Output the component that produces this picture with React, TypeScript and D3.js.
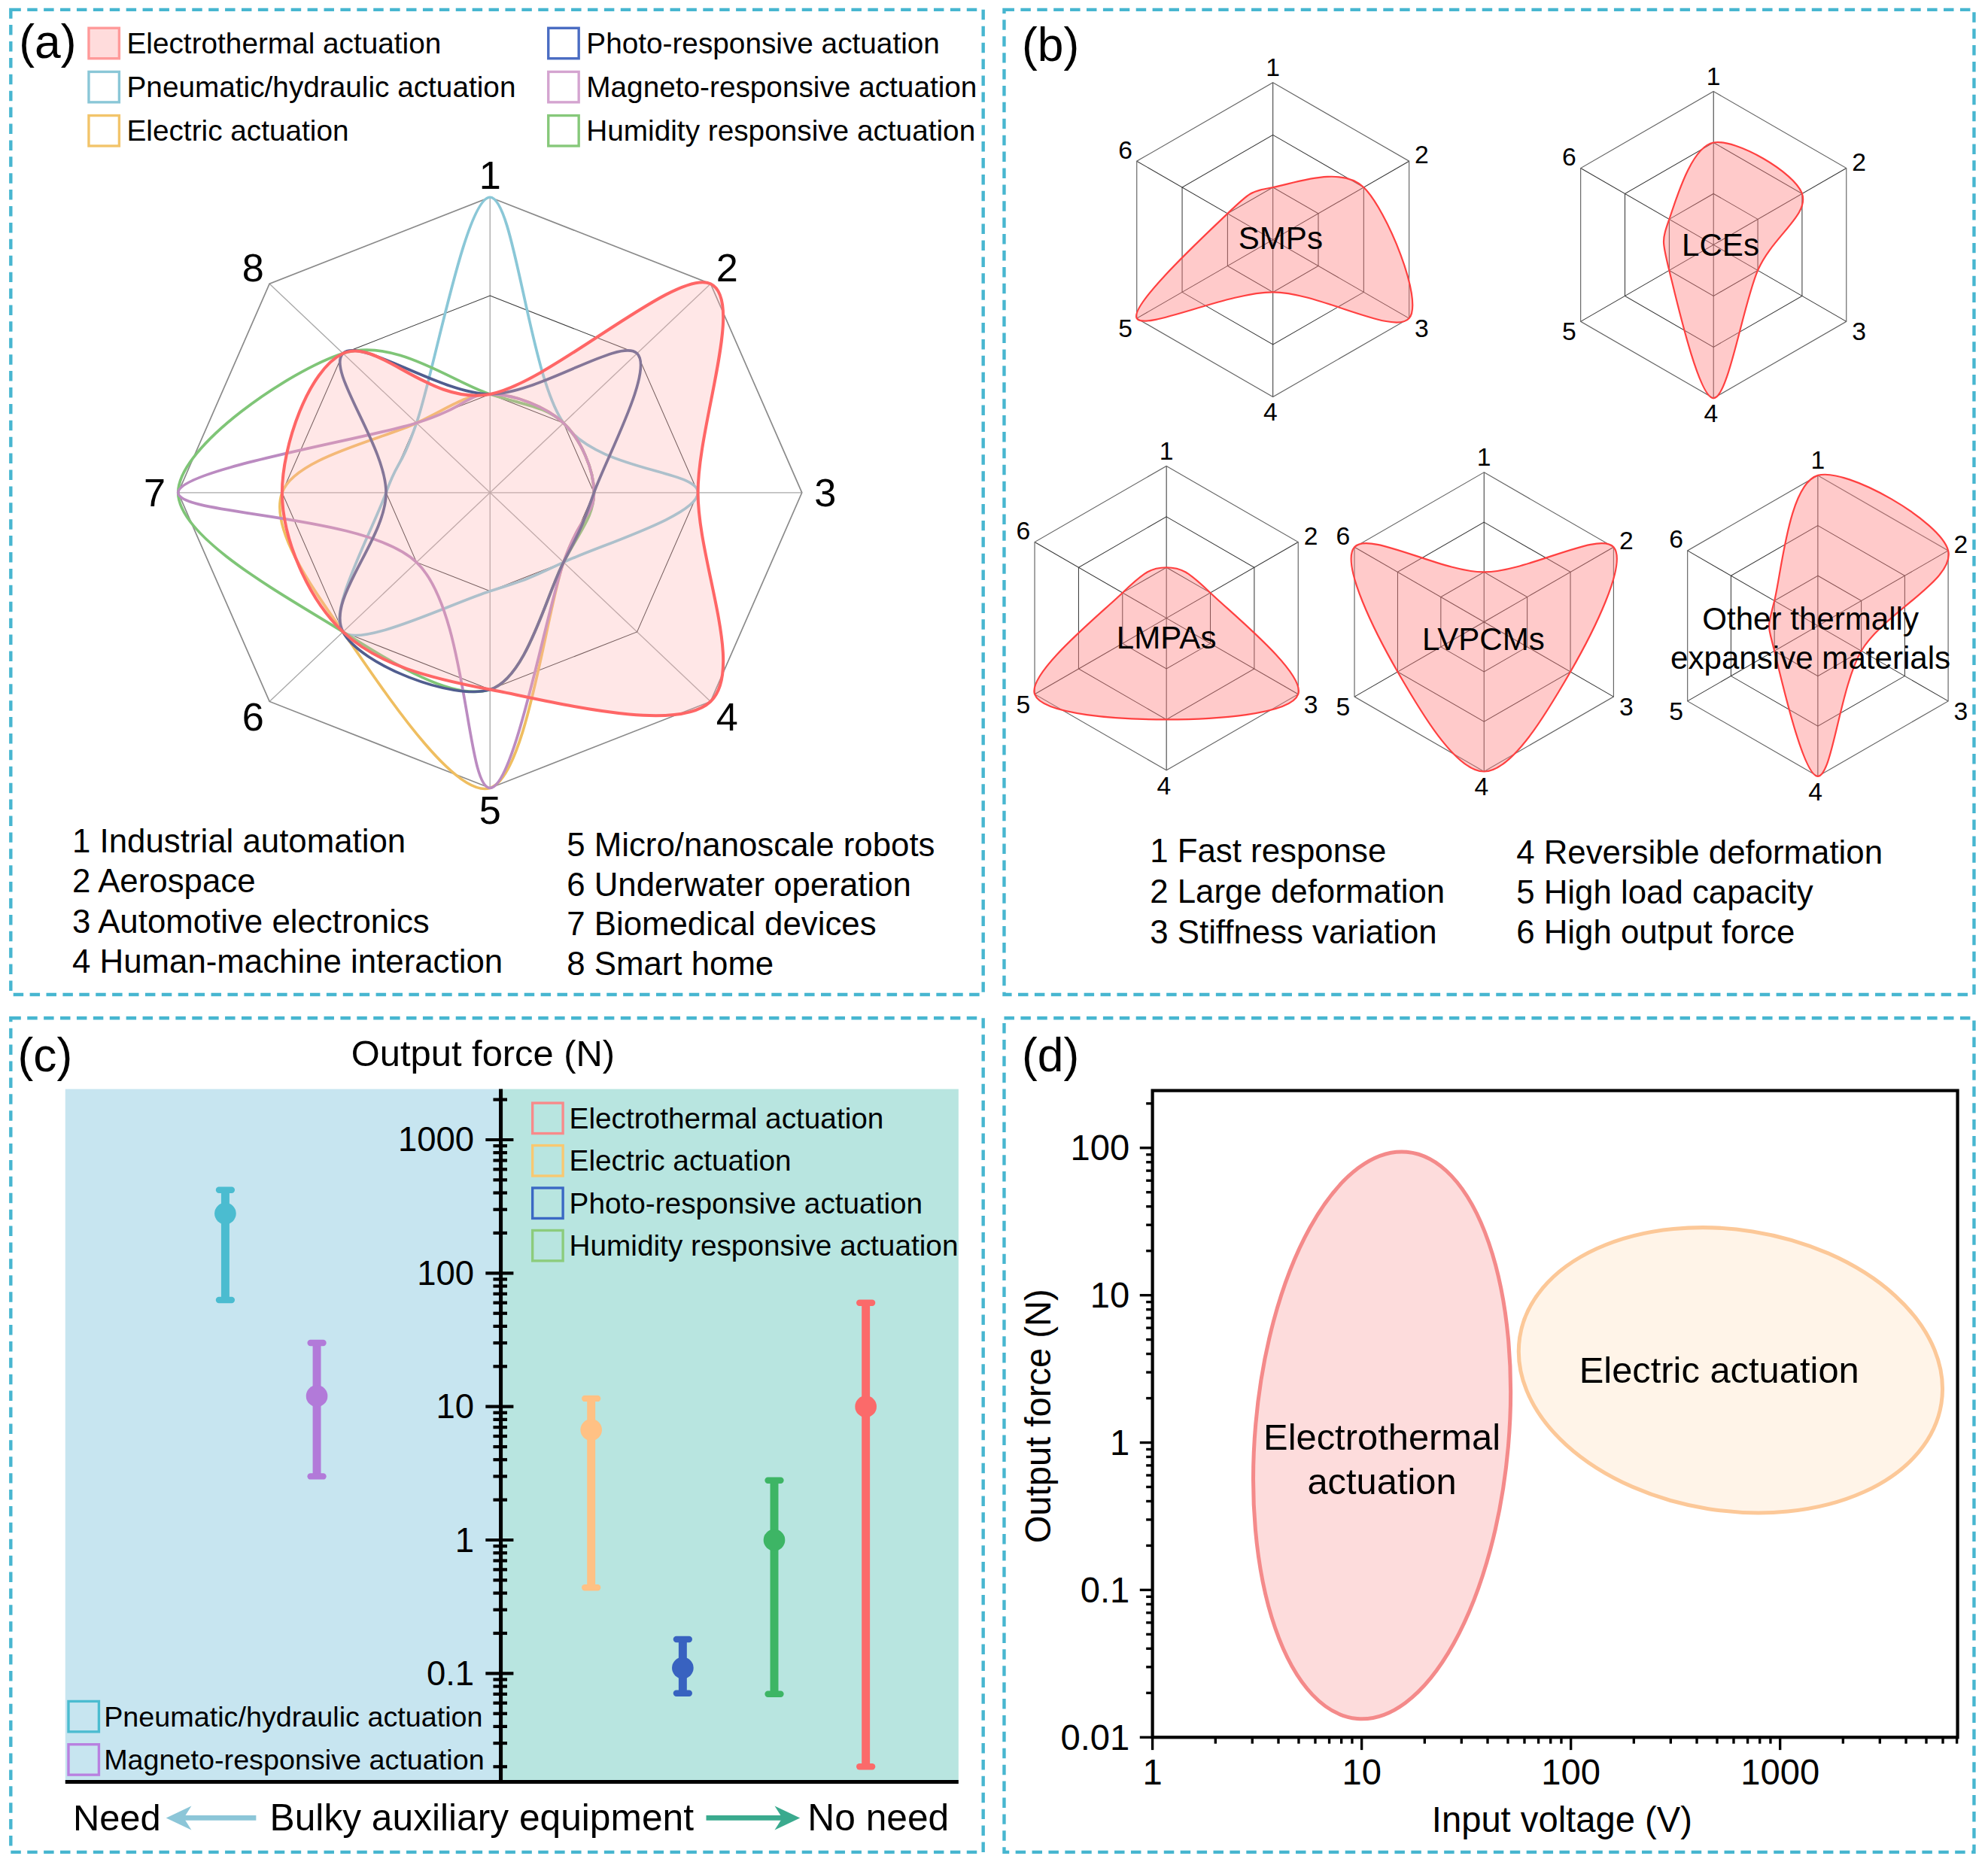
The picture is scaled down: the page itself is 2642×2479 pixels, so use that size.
import React from "react";
import * as d3 from "d3";

const FONT = "'Liberation Sans', Arial, Helvetica, sans-serif";
const W = 1568;
const H = 1471;

// ---------- (a) application scenarios (score 0-3) ----------
const appAxes = ["1", "2", "3", "4", "5", "6", "7", "8"];
const appNamesLeft = ["1 Industrial automation", "2 Aerospace", "3 Automotive electronics", "4 Human-machine interaction"];
const appNamesRight = ["5 Micro/nanoscale robots", "6 Underwater operation", "7 Biomedical devices", "8 Smart home"];
const actuationTypes = [
  "Electrothermal actuation",
  "Pneumatic/hydraulic actuation",
  "Electric actuation",
  "Photo-responsive actuation",
  "Magneto-responsive actuation",
  "Humidity responsive actuation",
];
const electrothermalApp = [1, 3, 2, 3, 2, 2, 2, 2];
const pneumaticApp = [3, 1, 2, 1, 1, 2, 1, 1];
const electricApp = [1, 1, 1, 1, 3, 2, 2, 1];
const photoApp = [1, 2, 1, 1, 2, 2, 1, 2];
const magnetoApp = [1, 1, 1, 1, 3, 1, 3, 1];
const humidityApp = [1, 1, 1, 1, 2, 2, 3, 2];

// ---------- (b) thermally responsive materials (score 0-3) ----------
const propAxes = ["1", "2", "3", "4", "5", "6"];
const propNamesLeft = ["1 Fast response", "2 Large deformation", "3 Stiffness variation"];
const propNamesRight = ["4 Reversible deformation", "5 High load capacity", "6 High output force"];
const materials = ["SMPs", "LCEs", "LMPAs", "LVPCMs", "Other thermally\nexpansive materials"];
const smpScores = [1, 2, 3, 1, 3, 1];
const lceScores = [2, 2, 1, 3, 1, 1];
const lmpaScores = [1, 1, 3, 2, 3, 1];
const lvpcmScores = [1, 3, 2, 3, 2, 3];
const otherScores = [3, 3, 1, 3, 1, 1];

// ---------- (c) output force ranges (N) ----------
const forceTypes = [
  "Pneumatic/hydraulic actuation",
  "Magneto-responsive actuation",
  "Electric actuation",
  "Photo-responsive actuation",
  "Humidity responsive actuation",
  "Electrothermal actuation",
];
const forceTypical = [280, 12, 6.7, 0.11, 1, 10];
const forceMin = [63, 3, 0.44, 0.071, 0.07, 0.02];
const forceMax = [420, 30, 11.5, 0.18, 2.8, 60];
const needsAuxiliary = [true, true, false, false, false, false];
const forceTicksC = [0.1, 1, 10, 100, 1000];

// ---------- (d) voltage vs force regions ----------
const voltageTicks = [1, 10, 100, 1000];
const forceTicksD = [0.01, 0.1, 1, 10, 100];
const regionNames = ["Electrothermal actuation", "Electric actuation"];
const regionVoltage = [12.5, 580]; // centre, V
const regionForce = [1.12, 3.1]; // centre, N
const regionVoltageHalf = [0.606, 1.02]; // half axis, decades
const regionForceHalf = [1.93, 0.953]; // half axis, decades
const regionTilt = [5, 9]; // degrees

const lineColor: Record<string, string> = {
  "Electrothermal actuation": "#ff6666",
  "Pneumatic/hydraulic actuation": "#8ac7d7",
  "Electric actuation": "#efbe60",
  "Photo-responsive actuation": "#505d8f",
  "Magneto-responsive actuation": "#bb8bc1",
  "Humidity responsive actuation": "#7fc577",
};
const keyColor: Record<string, string> = {
  "Electrothermal actuation": "#ff9a9a",
  "Pneumatic/hydraulic actuation": "#8ac7d7",
  "Electric actuation": "#f2c46a",
  "Photo-responsive actuation": "#4a6cc2",
  "Magneto-responsive actuation": "#d4a4d0",
  "Humidity responsive actuation": "#86c87a",
};
const barColor: Record<string, string> = {
  "Pneumatic/hydraulic actuation": "#4bbcd0",
  "Magneto-responsive actuation": "#b27ad9",
  "Electric actuation": "#ffc184",
  "Photo-responsive actuation": "#3862c0",
  "Humidity responsive actuation": "#3db565",
  "Electrothermal actuation": "#fb6a6a",
};
const barKeyColor: Record<string, string> = {
  "Pneumatic/hydraulic actuation": "#4bbcd0",
  "Magneto-responsive actuation": "#b880e0",
  "Electric actuation": "#f8c870",
  "Photo-responsive actuation": "#3a68c4",
  "Humidity responsive actuation": "#8ccc7c",
  "Electrothermal actuation": "#f88a8a",
};

const Border = ({ x, y, w, h }: { x: number; y: number; w: number; h: number }) => (
  <rect x={x} y={y} width={w} height={h} fill="none" stroke="#47b6d0" strokeWidth={2.6} strokeDasharray="8 5" />
);

const PanelLabel = ({ x, y, t }: { x: number; y: number; t: string }) => (
  <text x={x} y={y} fontSize={37} dominantBaseline="central">{t}</text>
);

function PanelA() {
  const cx = 386.5, cy = 388.5, rx = 246, ry = 233;
  const r = d3.scaleLinear().domain([0, 3]).range([0, 1]);
  const ang = d3.scaleLinear().domain([0, appAxes.length]).range([0, 2 * Math.PI]);
  const pt = (i: number, v: number): [number, number] => [
    cx + rx * r(v) * Math.sin(ang(i)),
    cy - ry * r(v) * Math.cos(ang(i)),
  ];
  const poly = d3.line();
  const spline = d3.line().curve(d3.curveCardinalClosed.tension(0));
  const ring = (v: number) => poly(appAxes.map((_, i) => pt(i, v))) + "Z";
  const scores: Record<string, number[]> = {
    "Electrothermal actuation": electrothermalApp,
    "Pneumatic/hydraulic actuation": pneumaticApp,
    "Electric actuation": electricApp,
    "Photo-responsive actuation": photoApp,
    "Magneto-responsive actuation": magnetoApp,
    "Humidity responsive actuation": humidityApp,
  };
  const drawOrder = [
    "Pneumatic/hydraulic actuation",
    "Electric actuation",
    "Humidity responsive actuation",
    "Magneto-responsive actuation",
    "Photo-responsive actuation",
  ];
  const et = spline(electrothermalApp.map((v, i) => pt(i, v))) as string;
  const legendRows = [34, 68.5, 103];
  return (
    <g>
      <Border x={8.5} y={7.5} w={767} h={777} />
      <PanelLabel x={15} y={33} t="(a)" />
      {actuationTypes.map((name, k) => {
        const col = k < 3 ? 0 : 1;
        const x = col === 0 ? 70 : 432.5;
        const y = legendRows[k % 3];
        const et0 = name === "Electrothermal actuation";
        return (
          <g key={name}>
            <rect x={x} y={y - 12} width={24} height={24} fill={et0 ? "#ffdcdc" : "#fff"} stroke={keyColor[name]} strokeWidth={2} />
            <text x={x + 30} y={y} fontSize={23} dominantBaseline="central">{name}</text>
          </g>
        );
      })}
      {appAxes.map((_, i) => (
        <line key={i} x1={cx} y1={cy} x2={pt(i, 3)[0]} y2={pt(i, 3)[1]} stroke="#a8a8a8" strokeWidth={0.8} />
      ))}
      <path d={ring(1)} fill="none" stroke="#3a3a3a" strokeWidth={0.6} />
      <path d={ring(2)} fill="none" stroke="#3a3a3a" strokeWidth={0.6} />
      <path d={ring(3)} fill="none" stroke="#8a8a8a" strokeWidth={1} />
      {drawOrder.map((name) => (
        <path key={name} d={spline(scores[name].map((v, i) => pt(i, v))) as string} fill="none" stroke={lineColor[name]} strokeWidth={2.2} />
      ))}
      <path d={et} fill="#ffb0b0" fillOpacity={0.3} stroke="none" />
      <path d={et} fill="none" stroke={lineColor["Electrothermal actuation"]} strokeWidth={2.4} />
      {appAxes.map((a, i) => {
        const [x, y] = pt(i, 3 * 1.075);
        return (
          <text key={a} x={x} y={y} fontSize={31} textAnchor="middle" dominantBaseline="central">{a}</text>
        );
      })}
      {appNamesLeft.map((t, i) => (
        <text key={t} x={57} y={663 + i * 31.7} fontSize={26} dominantBaseline="central">{t}</text>
      ))}
      {appNamesRight.map((t, i) => (
        <text key={t} x={447} y={666 + i * 31.3} fontSize={26} dominantBaseline="central">{t}</text>
      ))}
    </g>
  );
}

function Hexagon({ cx, cy, rad, values, label, lx, ly }: { cx: number; cy: number; rad: number; values: number[]; label: string; lx: number; ly: number }) {
  const r = d3.scaleLinear().domain([0, 3]).range([0, rad]);
  const ang = d3.scaleLinear().domain([0, propAxes.length]).range([0, 2 * Math.PI]);
  const pt = (i: number, v: number): [number, number] => [cx + r(v) * Math.sin(ang(i)), cy - r(v) * Math.cos(ang(i))];
  const poly = d3.line();
  const ring = (v: number) => poly(propAxes.map((_, i) => pt(i, v))) + "Z";
  const spline = d3.line().curve(d3.curveCardinalClosed.tension(0));
  const d = spline(values.map((v, i) => pt(i, v))) as string;
  const offs: [number, number][] = [[0, -12], [10, -5], [10, 8], [-2, 12], [-9, 8], [-9, -9]];
  const lines = label.split("\n");
  return (
    <g>
      {propAxes.map((_, i) => (
        <line key={i} x1={cx} y1={cy} x2={pt(i, 3)[0]} y2={pt(i, 3)[1]} stroke="#333" strokeWidth={0.6} />
      ))}
      <path d={ring(1)} fill="none" stroke="#333" strokeWidth={0.6} />
      <path d={ring(2)} fill="none" stroke="#333" strokeWidth={0.6} />
      <path d={ring(3)} fill="none" stroke="#666" strokeWidth={0.7} />
      <path d={d} fill="#ff8080" fillOpacity={0.42} stroke="#ff4040" strokeWidth={1.3} />
      {propAxes.map((a, i) => {
        const [x, y] = pt(i, 3);
        return (
          <text key={a} x={x + offs[i][0]} y={y + offs[i][1]} fontSize={20} textAnchor="middle" dominantBaseline="central">{a}</text>
        );
      })}
      {lines.map((t, k) => (
        <text key={t} x={lx} y={ly + k * 31} fontSize={25} textAnchor="middle" dominantBaseline="central">{t}</text>
      ))}
    </g>
  );
}

function PanelB() {
  const scores = [smpScores, lceScores, lmpaScores, lvpcmScores, otherScores];
  const layout = [
    { cx: 1004, cy: 189, rad: 124, lx: 1010, ly: 188 },
    { cx: 1351.5, cy: 193, rad: 121, lx: 1357, ly: 193 },
    { cx: 920, cy: 487.5, rad: 120, lx: 920, ly: 503 },
    { cx: 1170.5, cy: 490.5, rad: 118, lx: 1170, ly: 504 },
    { cx: 1433.8, cy: 493.6, rad: 118.7, lx: 1428, ly: 488 },
  ];
  return (
    <g>
      <Border x={792} y={7.5} w={765} h={777} />
      <PanelLabel x={806} y={35} t="(b)" />
      {materials.map((m, k) => (
        <Hexagon key={m} {...layout[k]} values={scores[k]} label={m} />
      ))}
      {propNamesLeft.map((t, i) => (
        <text key={t} x={907} y={671 + i * 32} fontSize={26} dominantBaseline="central">{t}</text>
      ))}
      {propNamesRight.map((t, i) => (
        <text key={t} x={1196} y={672 + i * 31.5} fontSize={26} dominantBaseline="central">{t}</text>
      ))}
    </g>
  );
}

function PanelC() {
  const left = 51.5, mid = 395, right = 756, top = 859, bottom = 1405.5;
  const y = d3.scaleLog().domain([0.1, 1000]).range([1320, 899]);
  const tickScale = y.copy().domain([y.invert(bottom), y.invert(top)]).range([bottom, top]);
  const ticks = tickScale.ticks();
  const isMajor = (v: number) => Math.abs(Math.log10(v) - Math.round(Math.log10(v))) < 1e-6;
  const need = forceTypes.filter((_, i) => needsAuxiliary[i]);
  const noNeed = forceTypes.filter((_, i) => !needsAuxiliary[i]);
  const step = 72.2;
  const group = (names: string[], c: number) =>
    d3.scalePoint<string>().domain(names).range([c - (step * (names.length - 1)) / 2, c + (step * (names.length - 1)) / 2]);
  const xNeed = group(need, 213.8);
  const xNo = group(noNeed, 574.6);
  const xOf = (n: string) => (need.includes(n) ? (xNeed(n) as number) : (xNo(n) as number));
  const keyRight = ["Electrothermal actuation", "Electric actuation", "Photo-responsive actuation", "Humidity responsive actuation"];
  const keyLeft = ["Pneumatic/hydraulic actuation", "Magneto-responsive actuation"];
  const ay = 1434;
  return (
    <g>
      <Border x={8.5} y={803} w={767} h={658} />
      <PanelLabel x={14} y={832} t="(c)" />
      <text x={381} y={831} fontSize={29} textAnchor="middle" dominantBaseline="central">Output force (N)</text>
      <rect x={left} y={top} width={mid - left} height={bottom - top} fill="#c7e5f0" />
      <rect x={mid} y={top} width={right - mid} height={bottom - top} fill="#b8e5e0" />
      {keyRight.map((n, i) => (
        <g key={n}>
          <rect x={420} y={870 + i * 33.5} width={24} height={24} fill="none" stroke={barKeyColor[n]} strokeWidth={2} />
          <text x={449} y={882 + i * 33.5} fontSize={23} dominantBaseline="central">{n}</text>
        </g>
      ))}
      {keyLeft.map((n, i) => (
        <g key={n}>
          <rect x={54} y={1342 + i * 34} width={24} height={24} fill="none" stroke={barKeyColor[n]} strokeWidth={2} />
          <text x={82} y={1354 + i * 34} fontSize={22.4} dominantBaseline="central">{n}</text>
        </g>
      ))}
      {forceTypes.map((n, i) => {
        const x = xOf(n);
        const c = barColor[n];
        return (
          <g key={n}>
            <line x1={x} x2={x} y1={y(forceMin[i])} y2={y(forceMax[i])} stroke={c} strokeWidth={6.5} />
            <line x1={x - 5} x2={x + 5} y1={y(forceMin[i])} y2={y(forceMin[i])} stroke={c} strokeWidth={5} strokeLinecap="round" />
            <line x1={x - 5} x2={x + 5} y1={y(forceMax[i])} y2={y(forceMax[i])} stroke={c} strokeWidth={5} strokeLinecap="round" />
            <circle cx={x} cy={y(forceTypical[i])} r={8.5} fill={c} />
          </g>
        );
      })}
      {ticks.map((v) => {
        const m = isMajor(v);
        return (
          <line key={v} x1={m ? mid - 12 : mid - 6} x2={m ? mid + 10 : mid + 5} y1={y(v)} y2={y(v)} stroke="#000" strokeWidth={2.5} />
        );
      })}
      {forceTicksC.map((v) => (
        <text key={v} x={374} y={y(v)} fontSize={27} textAnchor="end" dominantBaseline="central">{String(v)}</text>
      ))}
      <line x1={mid} x2={mid} y1={top} y2={bottom} stroke="#000" strokeWidth={3} />
      <line x1={left} x2={right} y1={bottom} y2={bottom} stroke="#000" strokeWidth={3} />
      <text x={57.5} y={ay} fontSize={29} dominantBaseline="central">Need</text>
      <line x1={202} x2={142} y1={ay} y2={ay} stroke="#8cc6d8" strokeWidth={4} />
      <path d={`M131,${ay} L151,${ay - 9.5} L145,${ay} L151,${ay + 9.5} Z`} fill="#8cc6d8" />
      <text x={380} y={ay} fontSize={29.5} textAnchor="middle" dominantBaseline="central">Bulky auxiliary equipment</text>
      <line x1={557} x2={620} y1={ay} y2={ay} stroke="#3aaa8e" strokeWidth={4} />
      <path d={`M631,${ay} L611,${ay - 9.5} L617,${ay} L611,${ay + 9.5} Z`} fill="#3aaa8e" />
      <text x={637} y={ay} fontSize={29.5} dominantBaseline="central">No need</text>
    </g>
  );
}

function PanelD() {
  const left = 909, right = 1544, top = 860.2, bottom = 1370.4;
  const x = d3.scaleLog().domain([1, 1000]).range([909, 1404]);
  const y = d3.scaleLog().domain([0.01, 100]).range([1370.4, 905.4]);
  const xt = x.copy().domain([1, x.invert(right)]).range([left, right]).ticks();
  const yt = y.copy().domain([0.01, y.invert(top)]).range([bottom, top]).ticks();
  const isMajor = (v: number) => Math.abs(Math.log10(v) - Math.round(Math.log10(v))) < 1e-6;
  const decX = x(10) - x(1);
  const decY = y(1) - y(10);
  const fills = ["#fddcdc", "#fff4e8"];
  const strokes = ["#f48a8a", "#fcc898"];
  return (
    <g>
      <Border x={792} y={803} w={765} h={658} />
      <PanelLabel x={806} y={832} t="(d)" />
      {regionNames.map((n, i) => {
        const cx = x(regionVoltage[i]);
        const cy = y(regionForce[i]);
        return (
          <ellipse key={n} cx={cx} cy={cy} rx={regionVoltageHalf[i] * decX} ry={regionForceHalf[i] * decY}
            transform={`rotate(${regionTilt[i]} ${cx} ${cy})`} fill={fills[i]} stroke={strokes[i]} strokeWidth={3} />
        );
      })}
      <text x={x(regionVoltage[0])} y={y(regionForce[0]) + 1} fontSize={29} textAnchor="middle" dominantBaseline="central">Electrothermal</text>
      <text x={x(regionVoltage[0])} y={y(regionForce[0]) + 36} fontSize={29} textAnchor="middle" dominantBaseline="central">actuation</text>
      <text x={x(regionVoltage[1]) - 9} y={y(regionForce[1])} fontSize={29} textAnchor="middle" dominantBaseline="central">Electric actuation</text>
      <rect x={left} y={top} width={right - left} height={bottom - top} fill="none" stroke="#000" strokeWidth={2.5} />
      {xt.map((v) => (
        <line key={"x" + v} x1={x(v)} x2={x(v)} y1={bottom} y2={bottom + (isMajor(v) ? 10 : 5)} stroke="#000" strokeWidth={2} />
      ))}
      {yt.map((v) => (
        <line key={"y" + v} x1={left} x2={left - (isMajor(v) ? 10 : 5)} y1={y(v)} y2={y(v)} stroke="#000" strokeWidth={2} />
      ))}
      {voltageTicks.map((v) => (
        <text key={v} x={x(v)} y={1398} fontSize={28} textAnchor="middle" dominantBaseline="central">{String(v)}</text>
      ))}
      {forceTicksD.map((v) => (
        <text key={v} x={891} y={y(v)} fontSize={28} textAnchor="end" dominantBaseline="central">{String(v)}</text>
      ))}
      <text x={1232} y={1435} fontSize={28} textAnchor="middle" dominantBaseline="central">Input voltage (V)</text>
      <text x={819} y={1117} fontSize={28} textAnchor="middle" dominantBaseline="central" transform="rotate(-90 819 1117)">Output force (N)</text>
    </g>
  );
}

export default function App() {
  return (
    <svg width={2642} height={2479} viewBox={`0 0 ${W} ${H}`} fontFamily={FONT}
      style={{ position: "absolute", left: 0, top: 0, display: "block" }}>
      <rect width={W} height={H} fill="#fff" />
      <PanelA />
      <PanelB />
      <PanelC />
      <PanelD />
    </svg>
  );
}
